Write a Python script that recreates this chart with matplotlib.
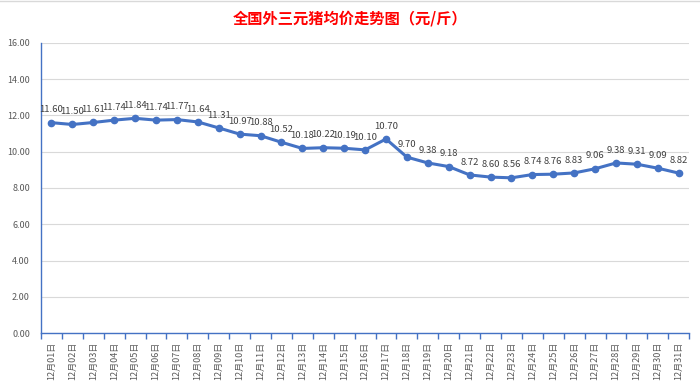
import numpy as np
import matplotlib
matplotlib.use('Agg')
from matplotlib import pyplot as plt

plt.rcParams['font.family'] = ['Noto Sans CJK SC', 'DejaVu Sans']

days = ["12月%02d日" % d for d in range(1, 32)]
price = [11.60, 11.50, 11.61, 11.74, 11.84, 11.74, 11.77, 11.64, 11.31, 10.97,
         10.88, 10.52, 10.18, 10.22, 10.19, 10.10, 10.70, 9.70, 9.38, 9.18,
         8.72, 8.60, 8.56, 8.74, 8.76, 8.83, 9.06, 9.38, 9.31, 9.09, 8.82]
yticks = [0, 2, 4, 6, 8, 10, 12, 14, 16]

fig = plt.figure(figsize=(7, 3.86), dpi=100)
ax = fig.add_axes([0.0586, 0.137, 0.926, 0.752])

x = np.arange(len(days))
blue = '#4472C4'
ax.plot(x, price, color=blue, lw=2.2, marker='o', ms=4.5, zorder=3)
for xi, v in zip(x, price):
    ax.annotate('%.2f' % v, (xi, v), xytext=(0, 6), textcoords='offset points',
                ha='center', va='bottom', fontsize=6.8, color='#404040')

ax.set_xlim(-0.5, len(days) - 0.5)
ax.set_ylim(0, 16)
ax.set_yticks(yticks)
ax.set_yticklabels(['%.2f' % t for t in yticks])
ax.yaxis.grid(True, color='#D9D9D9', lw=0.8)
ax.set_axisbelow(True)

ax.set_xticks(x)
ax.set_xticklabels(days, rotation=90, fontsize=6.5, color='#595959')
ax.set_xticks(np.arange(-0.5, len(days), 1), minor=True)
ax.tick_params(axis='x', which='major', length=0, pad=6)
ax.tick_params(axis='x', which='minor', length=4, color=blue, width=1)
ax.tick_params(axis='y', length=0, labelsize=6.5, labelcolor='#595959', pad=8)

for s in ['top', 'right']:
    ax.spines[s].set_visible(False)
ax.spines['left'].set_color(blue)
ax.spines['bottom'].set_color(blue)
ax.spines['left'].set_linewidth(1)
ax.spines['bottom'].set_linewidth(1)

fig.text(0.5, 0.953, '全国外三元猪均价走势图（元/斤）', ha='center', va='center',
         fontsize=11, color='red', fontweight='bold')
fig.add_artist(plt.Line2D([0, 1], [0.997, 0.997], color='#D9D9D9', lw=1))

fig.savefig('out.png', dpi=100)
